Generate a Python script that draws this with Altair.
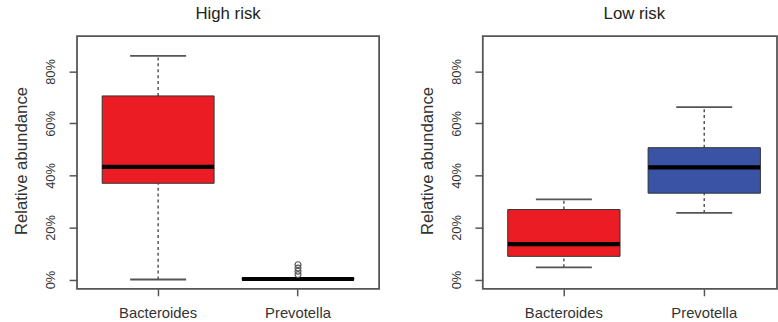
import altair as alt
import pandas as pd

# Box-plot summaries (relative abundance, %)
categories = ["Bacteroides", "Prevotella"]

high_lo = [0.0, 0.0]
high_q1 = [37.0, 0.0]
high_med = [43.3, 0.2]
high_q3 = [70.6, 0.6]
high_hi = [86.0, 0.6]
high_fill = ["#EC1C24", "#EC1C24"]
high_outlier_cat = ["Prevotella", "Prevotella", "Prevotella", "Prevotella"]
high_outlier_val = [1.9, 3.2, 4.4, 5.7]

low_lo = [4.7, 25.6]
low_q1 = [8.9, 33.2]
low_med = [13.6, 43.1]
low_q3 = [26.9, 50.7]
low_hi = [30.8, 66.3]
low_fill = ["#EC1C24", "#3A53A4"]

y_ticks = [0, 20, 40, 60, 80]

FONT = "Liberation Sans"
TEXT = "#333333"
LINE = "#555555"


def panel(title, lo, q1, med, q3, hi, fill, out_cat, out_val,
          width, pad_outer, align, title_dx):
    box = pd.DataFrame({"category": categories, "lo": lo, "q1": q1,
                        "med": med, "q3": q3, "hi": hi, "fill": fill})
    x = alt.X("category:N", sort=categories, title=None,
              scale=alt.Scale(paddingInner=0.2, paddingOuter=pad_outer, align=align),
              axis=alt.Axis(labelAngle=0, labelFont=FONT, labelFontSize=15,
                            labelColor=TEXT, labelBaseline="alphabetic",
                            labelPadding=22, tickSize=7, tickWidth=1.5,
                            tickColor=LINE, domain=False, grid=False))
    yscale = alt.Scale(domain=[-3.6, 93.6], nice=False, zero=False)
    yaxis = alt.Axis(values=y_ticks, labelExpr="datum.value + '%'",
                     labelAngle=-90, labelAlign="center", labelBaseline="alphabetic",
                     labelFont=FONT, labelFontSize=13, labelColor=TEXT,
                     labelPadding=15, tickSize=8, tickWidth=1.5, tickColor=LINE,
                     domain=False, grid=False,
                     title="Relative abundance", titleFont=FONT, titleFontSize=17,
                     titleFontWeight="normal", titleColor=TEXT,
                     titleX=-51, titleY=126, titleAngle=-90,
                     titleAlign="center", titleBaseline="alphabetic")

    base = alt.Chart(box).encode(x=x)

    whisk_lo = base.mark_rule(color=LINE, strokeWidth=1.5, strokeDash=[3, 3]).encode(
        y=alt.Y("lo:Q", scale=yscale, axis=yaxis), y2="q1:Q")
    whisk_hi = base.mark_rule(color=LINE, strokeWidth=1.5, strokeDash=[3, 3]).encode(
        y=alt.Y("q3:Q", scale=yscale), y2="hi:Q")
    cap_lo = base.mark_tick(color=LINE, size=56.7, thickness=1.8, opacity=1).encode(
        y=alt.Y("lo:Q", scale=yscale))
    cap_hi = base.mark_tick(color=LINE, size=56.7, thickness=1.8, opacity=1).encode(
        y=alt.Y("hi:Q", scale=yscale))
    body = base.mark_bar(stroke="#333333", strokeWidth=1, opacity=1).encode(
        y=alt.Y("q1:Q", scale=yscale), y2="q3:Q",
        fill=alt.Fill("fill:N", scale=None))
    median = base.mark_tick(color="black", size=113.3, thickness=4.2, opacity=1).encode(
        y=alt.Y("med:Q", scale=yscale))

    layers = [whisk_lo, whisk_hi, cap_lo, cap_hi, body, median]

    if out_val:
        outl = pd.DataFrame({"category": out_cat, "value": out_val})
        pts = alt.Chart(outl).mark_point(shape="circle", filled=False, size=36,
                                          color=LINE, strokeWidth=1.2, opacity=1).encode(
            x=alt.X("category:N", sort=categories),
            y=alt.Y("value:Q", scale=yscale))
        layers.append(pts)

    return alt.layer(*layers).properties(
        width=width, height=256,
        title=alt.TitleParams(title, font=FONT, fontSize=17, fontWeight="normal",
                              color="#222222", anchor="middle", baseline="alphabetic",
                              offset=0, dx=title_dx))


left = panel("High risk", high_lo, high_q1, high_med, high_q3, high_hi, high_fill,
             high_outlier_cat, high_outlier_val, 306, 0.18, 0.5, 0)
right = panel("Low risk", low_lo, low_q1, low_med, low_q3, low_hi, low_fill,
              [], [], 298, 0.148, 0.6, 4.5)

chart = alt.hconcat(left, right, spacing=38).properties(
    padding={"left": 12, "top": 2.5, "right": 0, "bottom": 0},
    background="white",
).configure_view(stroke=LINE, strokeWidth=1.8)

chart.save("out.html", embed_options={"renderer": "svg", "actions": False})
